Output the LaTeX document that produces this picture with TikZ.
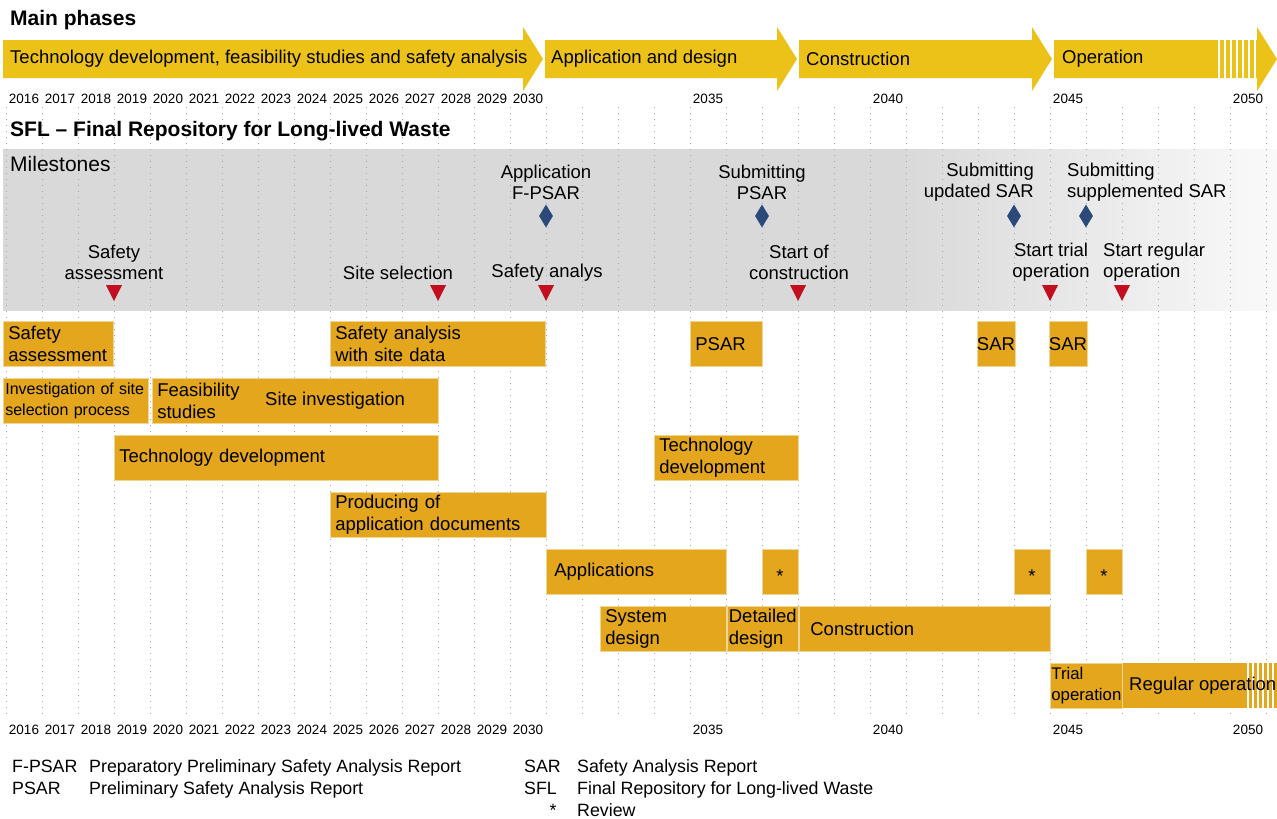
\documentclass[tikz,border=0pt]{standalone}
\usepackage{fontspec}
\setmainfont{Liberation Sans}
\usetikzlibrary{shapes.geometric,positioning}

\definecolor{phaseyellow}{RGB}{237,194,24}
\definecolor{taskorange}{RGB}{227,166,28}
\definecolor{taskedge}{RGB}{240,214,150}
\definecolor{milegray}{RGB}{217,217,217}
\definecolor{appblue}{RGB}{43,74,122}
\definecolor{eventred}{RGB}{194,14,30}

\begin{document}
\begin{tikzpicture}[x=1pt, y=-1pt,
    phase/.style={fill=phaseyellow},
    plain_text/.style={anchor=west, inner sep=0pt, font=\fontsize{18.5}{21}\selectfont},
    title_text/.style={anchor=west, inner sep=0pt, font=\fontsize{21}{24}\selectfont\bfseries},
    year_text/.style={inner sep=0pt, font=\fontsize{13.5}{16}\selectfont},
    grid_line/.style={gray!70, line width=0.7pt, dash pattern=on 0.7pt off 5.3pt},
    mile_text/.style={inner sep=0pt, align=center, font=\fontsize{18.5}{21}\selectfont},
    app_node/.style={diamond, fill=appblue, minimum width=14pt, minimum height=23pt, inner sep=0pt},
    event/.style={fill=eventred},
    task/.style={fill=taskorange, draw=taskedge, line width=0.7pt, anchor=north west,
        minimum height=45pt, inner xsep=5pt, inner ysep=0pt, align=left,
        font=\fontsize{18.5}{21.5}\selectfont},
    task_c/.style={task, anchor=north, inner xsep=0pt, align=center},
    review/.style={task_c, minimum width=36pt, text height=21pt, text depth=0pt},
    legend_text/.style={anchor=base west, inner sep=0pt, font=\fontsize{17.8}{22}\selectfont}
]
\useasboundingbox (0,0) rectangle (1277,819);

% main phases
\node[title_text] (main_title) at (10,20) {Main phases};
\fill[phase] (3,40) -- (523,40) -- (523,27) -- (543,59) -- (523,91) -- (523,78) -- (3,78) -- cycle;
\fill[phase] (545,40) -- (777,40) -- (777,27) -- (797,59) -- (777,91) -- (777,78) -- (545,78) -- cycle;
\fill[phase] (799,40) -- (1032,40) -- (1032,27) -- (1052,59) -- (1032,91) -- (1032,78) -- (799,78) -- cycle;
\fill[phase] (1054,40) -- (1257,40) -- (1257,27) -- (1277,59) -- (1257,91) -- (1257,78) -- (1054,78) -- cycle;
\foreach \sx in {1219,1225,...,1255}
    \draw[white, line width=1.4pt] (\sx,40) -- (\sx,78);
\node[plain_text] (phase_one) at (10,59) {Technology development, feasibility studies and safety analysis};
\node[plain_text] (phase_two) at (551,59) {Application and design};
\node[plain_text] (phase_three) at (806,59) {Construction};
\node[plain_text] (phase_four) at (1062,59) {Operation};

% years
\foreach \yr in {2016,...,2030} {
    \node[year_text] (top\yr) at ({24+36*(\yr-2016)},99) {\yr};
    \node[year_text] (bot\yr) at ({24+36*(\yr-2016)},730) {\yr};
}
\foreach \yr in {2035,2040,2045,2050} {
    \node[year_text] (top\yr) at ({24+36*(\yr-2016)},99) {\yr};
    \node[year_text] (bot\yr) at ({24+36*(\yr-2016)},730) {\yr};
}

\node[title_text] (sfl_title) at (10,131) {SFL – Final Repository for Long-lived Waste};

% milestones
\fill[milegray] (3,149) rectangle (897.5,311);
\foreach \i [evaluate=\i as \wp using 85*\i/37] in {0,...,37}
    \fill[white!\wp!milegray] ({897+10*\i},149) rectangle ({907.5+10*\i},311);

\foreach \k in {0,...,35}
    \draw[grid_line] ({6+36*\k},107) -- ({6+36*\k},716);

\node[title_text, font=\fontsize{21}{24}\selectfont] (mile_title) at (10,164) {Milestones};

\node[mile_text] (lbl_fpsar) at (546,182) {Application\\F-PSAR};
\node[mile_text] (lbl_psar) at (762,182) {Submitting\\PSAR};
\node[mile_text, anchor=east, align=right] (lbl_usar) at (1034,182) {Submitting\\updated SAR};
\node[mile_text, anchor=west, align=left] (lbl_ssar) at (1067,182) {Submitting\\supplemented SAR};

\node[app_node] (d_fpsar) at (546,216) {};
\node[app_node] (d_psar) at (762,216) {};
\node[app_node] (d_usar) at (1014,216) {};
\node[app_node] (d_ssar) at (1086,216) {};

\node[mile_text] (lbl_assess) at (114,262) {Safety\\assessment};
\node[mile_text] (lbl_site) at (398,273) {Site selection};
\node[mile_text] (lbl_analys) at (547,273) {Safety analys};
\node[mile_text] (lbl_constr) at (799,262) {Start of\\construction};
\node[mile_text] (lbl_trial) at (1051,262) {Start trial\\operation};
\node[mile_text, anchor=west, align=left] (lbl_regular) at (1103,262) {Start regular\\operation};

\foreach \mx in {114,438,546,798,1050,1122}
    \fill[event] ({\mx-8},285) -- ({\mx+8},285) -- (\mx,301) -- cycle;

% activities
\node[task, text width=100pt] (safety_assess) at (3,321) {Safety\\assessment};
\node[task, text width=205pt] (site_data) at (330,321) {Safety analysis\\with site data};
\node[task, text width=62pt] (psar_task) at (690,321) {PSAR};
\node[task_c, minimum width=36pt] (sar_one) at (996,321) {SAR};
\node[task_c, minimum width=36pt] (sar_two) at (1068,321) {SAR};

\node[task, text width=141pt, inner xsep=2pt, font=\fontsize{16}{21}\selectfont] (site_process) at (3,378) {Investigation of site\\selection process};
\node[task, text width=276pt] (feasibility) at (152,378) {Feasibility\\studies};
\node[plain_text] (site_inv) at (265,401) {Site investigation};

\node[task, text width=314pt] (tech_dev) at (114,435) {Technology development};
\node[task, text width=134pt] (tech_dev_two) at (654,435) {Technology\\development};

\node[task, text width=206pt] (app_docs) at (330,492) {Producing of\\application documents};

\node[task, text width=164pt, inner xsep=8pt] (applications) at (546,549) {Applications};
\node[review] (review_one) at (780,549) {*};
\node[review] (review_two) at (1032,549) {*};
\node[review] (review_three) at (1104,549) {*};

\node[task, text width=116pt] (sys_design) at (600,606) {System\\design};
\node[task, text width=68pt, inner xsep=1.5pt] (det_design) at (727,606) {Detailed\\design};
\node[task, text width=229pt, inner xsep=11pt] (construction) at (799,606) {Construction};

\node[task, text width=70pt, inner xsep=1pt, font=\fontsize{16.8}{21}\selectfont] (trial_op) at (1050,663) {Trial\\operation};
\fill[taskorange] (1123,663) rectangle (1277,708);
\foreach \sx in {1248,1253,...,1273}
    \draw[white, line width=1.3pt] (\sx,663) -- (\sx,708);
\node[plain_text] (regular_op) at (1129,686) {Regular operation};

% legend
\node[legend_text] (key_fpsar) at (12,772) {F-PSAR};
\node[legend_text] (txt_fpsar) at (89,772) {Preparatory Preliminary Safety Analysis Report};
\node[legend_text] (key_psar) at (12,794) {PSAR};
\node[legend_text] (txt_psar) at (89,794) {Preliminary Safety Analysis Report};
\node[legend_text] (key_sar) at (524,772) {SAR};
\node[legend_text] (txt_sar) at (577,772) {Safety Analysis Report};
\node[legend_text] (key_sfl) at (524,794) {SFL};
\node[legend_text] (txt_sfl) at (577,794) {Final Repository for Long-lived Waste};
\node[legend_text, anchor=base] (key_review) at (553,816) {*};
\node[legend_text] (txt_review) at (577,816) {Review};

\end{tikzpicture}
\end{document}
